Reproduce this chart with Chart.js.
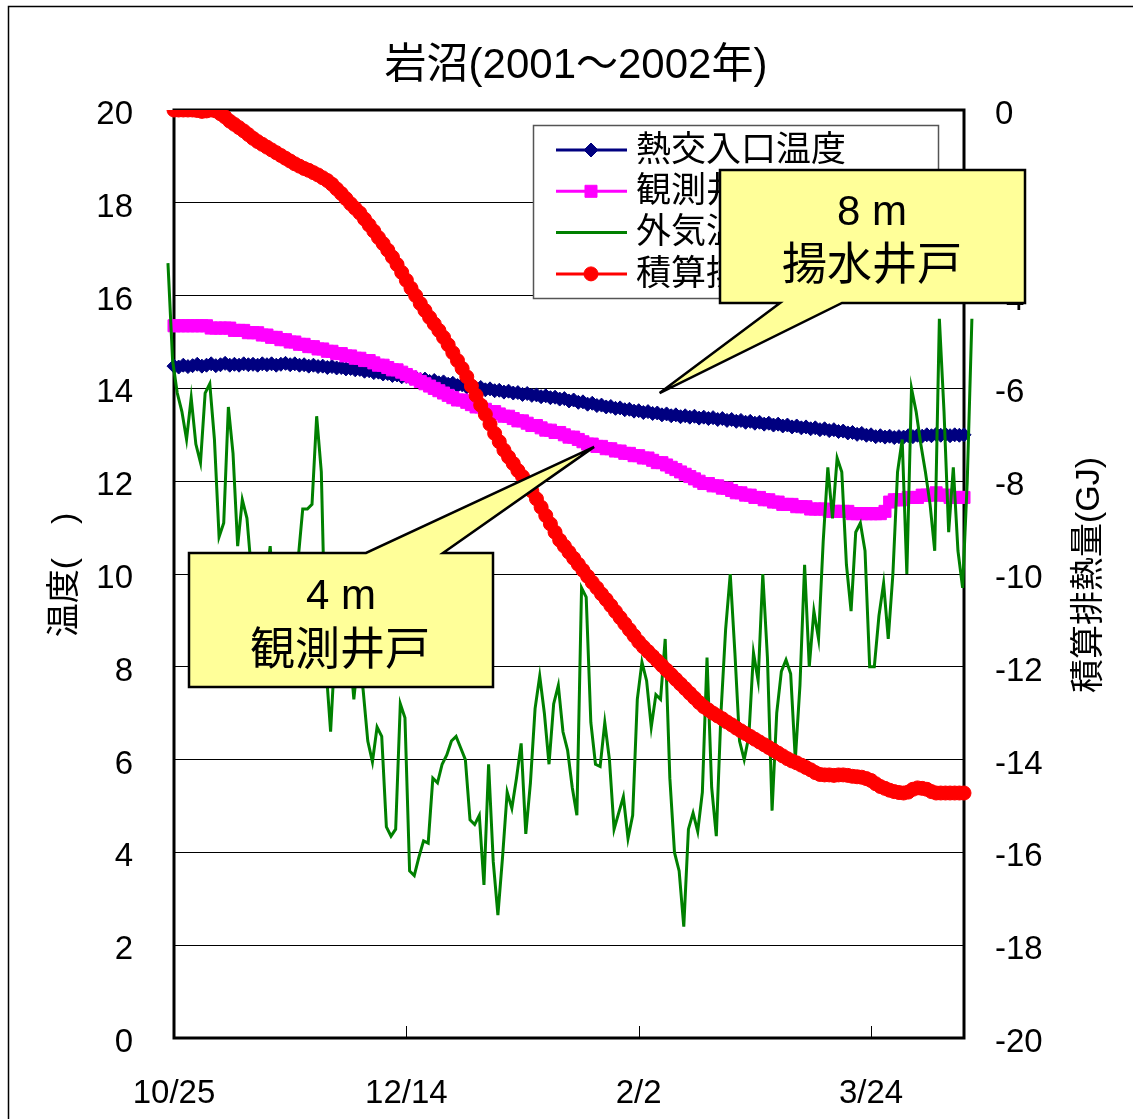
<!DOCTYPE html>
<html lang="ja">
<head>
<meta charset="utf-8">
<title>岩沼(2001～2002年)</title>
<script src="https://cdn.jsdelivr.net/npm/chart.js@4.4.1/dist/chart.umd.min.js"></script>
<style>
  html, body { margin: 0; padding: 0; background: #fff; }
  canvas { display: block; }
</style>
</head>
<body>
<canvas id="chart" width="1133" height="1119"></canvas>
<script>
// ---- chart data -------------------------------------------------------
const titleText = '岩沼(2001～2002年)';
const seriesNames = ['熱交入口温度', '観測井戸温度', '外気温度', '積算排熱量'];
const leftAxisTitle = '温度(\u3000)';
const rightAxisTitle = '積算排熱量(GJ)';

// x axis: days counted from 10/25
const dayRange = [0, 170];
const dayTicks = [0, 50, 100, 150];
const dayTickLabels = ['10/25', '12/14', '2/2', '3/24'];

// heat-exchanger inlet temperature (℃), one value per day
const inletTemp = [
  14.48, 14.46, 14.50, 14.47, 14.49, 14.52, 14.48, 14.50, 14.53, 14.49,
  14.51, 14.54, 14.50, 14.52, 14.50, 14.53, 14.51, 14.52, 14.50, 14.53,
  14.51, 14.53, 14.50, 14.52, 14.54, 14.51, 14.53, 14.50, 14.51, 14.48,
  14.50, 14.47, 14.48, 14.45, 14.47, 14.44, 14.45, 14.42, 14.43, 14.40,
  14.41, 14.37, 14.38, 14.34, 14.35, 14.31, 14.32, 14.28, 14.29, 14.25,
  14.26, 14.22, 14.23, 14.19, 14.20, 14.15, 14.17, 14.12, 14.14, 14.09,
  14.11, 14.06, 14.08, 14.03, 14.05, 14.00, 14.02, 13.97, 13.99, 13.95,
  13.96, 13.92, 13.94, 13.90, 13.91, 13.87, 13.89, 13.85, 13.86, 13.82,
  13.84, 13.80, 13.81, 13.77, 13.78, 13.73, 13.75, 13.70, 13.71, 13.66,
  13.68, 13.63, 13.64, 13.60, 13.61, 13.57, 13.58, 13.54, 13.55, 13.51,
  13.52, 13.48, 13.50, 13.46, 13.47, 13.43, 13.45, 13.41, 13.43, 13.39,
  13.41, 13.38, 13.40, 13.36, 13.38, 13.35, 13.37, 13.33, 13.35, 13.31,
  13.33, 13.29, 13.31, 13.27, 13.29, 13.25, 13.27, 13.23, 13.25, 13.21,
  13.23, 13.19, 13.21, 13.17, 13.19, 13.15, 13.17, 13.13, 13.15, 13.11,
  13.13, 13.09, 13.11, 13.07, 13.08, 13.04, 13.05, 13.01, 13.03, 12.99,
  13.00, 12.96, 12.98, 12.95, 12.97, 12.94, 12.96, 12.95, 12.98, 12.96,
  12.99, 12.97, 13.00, 12.98, 13.01, 12.99, 13.01, 12.98, 13.00, 12.99,
  13.00
];

// observation well (4 m) temperature (℃), one value per day
const wellTemp = [
  15.35, 15.35, 15.35, 15.35, 15.35, 15.35, 15.35, 15.35, 15.30, 15.30,
  15.30, 15.30, 15.30, 15.25, 15.25, 15.25, 15.20, 15.20, 15.20, 15.15,
  15.15, 15.10, 15.10, 15.05, 15.05, 15.00, 15.00, 14.95, 14.95, 14.90,
  14.90, 14.85, 14.85, 14.80, 14.80, 14.75, 14.75, 14.70, 14.70, 14.65,
  14.65, 14.60, 14.60, 14.55, 14.50, 14.50, 14.45, 14.40, 14.40, 14.35,
  14.30, 14.25, 14.20, 14.15, 14.10, 14.05, 14.00, 13.95, 13.90, 13.85,
  13.80, 13.75, 13.75, 13.70, 13.65, 13.60, 13.60, 13.55, 13.50, 13.50,
  13.45, 13.40, 13.40, 13.35, 13.30, 13.30, 13.25, 13.20, 13.20, 13.15,
  13.10, 13.10, 13.05, 13.05, 13.00, 12.95, 12.95, 12.90, 12.85, 12.80,
  12.80, 12.75, 12.75, 12.70, 12.70, 12.65, 12.65, 12.60, 12.60, 12.55,
  12.55, 12.50, 12.50, 12.45, 12.40, 12.40, 12.35, 12.30, 12.25, 12.20,
  12.15, 12.10, 12.05, 12.00, 11.95, 11.95, 11.90, 11.90, 11.85, 11.85,
  11.80, 11.75, 11.75, 11.70, 11.70, 11.65, 11.65, 11.60, 11.60, 11.55,
  11.55, 11.50, 11.50, 11.50, 11.45, 11.45, 11.45, 11.40, 11.40, 11.40,
  11.40, 11.35, 11.35, 11.35, 11.35, 11.35, 11.30, 11.30, 11.30, 11.30,
  11.30, 11.30, 11.30, 11.35, 11.55, 11.60, 11.60, 11.60, 11.65, 11.65,
  11.65, 11.70, 11.70, 11.70, 11.75, 11.70, 11.70, 11.65, 11.65, 11.65,
  11.65
];

// outdoor air temperature (℃), daily; its record starts a little before 10/25
const airTempStartDay = -1.3;
const airTemp = [
  16.7, 14.6, 13.9, 13.5, 12.9, 13.8, 12.8, 12.4, 13.9, 14.1,
  12.9, 10.8, 11.1, 13.6, 12.6, 10.6, 11.6, 11.2, 10.0, 9.0,
  8.5, 9.8, 10.6, 9.2, 8.4, 8.0, 9.0, 9.6, 10.3, 11.4,
  11.4, 11.5, 13.4, 12.2, 8.0, 6.6, 8.5, 9.0, 8.0, 8.5,
  7.3, 8.3, 7.5, 6.4, 5.95, 6.7, 6.5, 4.55, 4.35, 4.5,
  7.2, 6.9, 3.6, 3.5, 3.9, 4.25, 4.2, 5.6, 5.5, 5.9,
  6.1, 6.4, 6.5, 6.25, 6.0, 4.7, 4.6, 4.8, 3.3, 5.9,
  3.8, 2.65, 3.9, 5.3, 4.95, 5.6, 6.35, 4.4, 5.5, 7.1,
  7.8, 7.0, 5.9, 7.2, 7.6, 6.6, 6.2, 5.4, 4.8, 9.7,
  9.5, 6.8, 5.9, 5.85, 6.8, 6.0, 4.5, 4.85, 5.2, 4.3,
  4.8, 7.3, 8.1, 7.7, 6.7, 7.4, 7.3, 8.6, 5.6, 4.0,
  3.6, 2.4, 4.5, 4.85, 4.45, 5.3, 8.2, 5.4, 4.35, 7.0,
  8.8, 10.0, 8.3, 6.4, 6.0, 6.5, 8.3, 7.7, 10.0, 8.2,
  4.9, 7.0, 7.9, 8.15, 7.85, 6.0, 7.6, 10.2, 8.0, 9.2,
  8.6, 10.7, 12.3, 11.2, 12.5, 12.2, 10.2, 9.2, 10.9, 11.1,
  10.5, 8.0, 8.0, 9.1, 9.8, 8.6, 10.0, 12.2, 12.9, 10.0,
  14.0, 13.5, 12.8, 12.2, 11.5, 10.5, 15.5, 13.5, 10.9, 12.3,
  10.5, 9.7, 12.0, 15.5
];

// cumulative heat rejected (GJ), one value per day, on the right axis
const heatTotal = [
  0, 0, 0, 0, 0, -0.01, -0.03, -0.02, 0, -0.02,
  -0.08, -0.15, -0.24, -0.31, -0.38, -0.45, -0.53, -0.61, -0.68, -0.74,
  -0.80, -0.86, -0.92, -0.98, -1.04, -1.10, -1.16, -1.21, -1.26, -1.30,
  -1.35, -1.40, -1.46, -1.52, -1.60, -1.70, -1.80, -1.91, -2.02, -2.12,
  -2.22, -2.35, -2.48, -2.61, -2.75, -2.88, -3.02, -3.17, -3.33, -3.50,
  -3.67, -3.84, -4.00, -4.17, -4.32, -4.47, -4.61, -4.75, -4.90, -5.06,
  -5.23, -5.40, -5.57, -5.75, -5.95, -6.15, -6.36, -6.56, -6.77, -6.97,
  -7.15, -7.33, -7.48, -7.62, -7.77, -7.90, -8.04, -8.21, -8.38, -8.56,
  -8.74, -8.92, -9.10, -9.27, -9.40, -9.53, -9.66, -9.79, -9.92, -10.05,
  -10.18, -10.30, -10.43, -10.55, -10.68, -10.81, -10.94, -11.07, -11.20, -11.33,
  -11.46, -11.57, -11.67, -11.77, -11.87, -11.97, -12.07, -12.17, -12.27, -12.37,
  -12.47, -12.57, -12.67, -12.77, -12.86, -12.93, -13.00, -13.06, -13.12, -13.19,
  -13.25, -13.32, -13.38, -13.44, -13.50, -13.56, -13.62, -13.68, -13.74, -13.80,
  -13.86, -13.92, -13.98, -14.03, -14.07, -14.12, -14.17, -14.22, -14.28, -14.32,
  -14.33, -14.33, -14.34, -14.33, -14.33, -14.34, -14.36, -14.37, -14.38, -14.41,
  -14.45, -14.52, -14.58, -14.62, -14.66, -14.69, -14.71, -14.72, -14.70, -14.64,
  -14.61, -14.62, -14.64, -14.69, -14.72, -14.72, -14.72, -14.72, -14.72, -14.72,
  -14.72
];

// ---- styling ----------------------------------------------------------
const LATIN = "'Liberation Sans', Arial, 'Noto Sans CJK JP', sans-serif";
const NAVY = '#000080', MAGENTA = '#FF00FF', GREEN = '#008000', RED = '#FF0000';
const CALLOUT_FILL = '#FFFF99';

const daily = arr => arr.map((v, i) => ({ x: i, y: v }));

// markers used in the legend, same shapes as on the lines
function drawMarker(ctx, style, x, y, r, color) {
  ctx.save();
  ctx.fillStyle = color;
  ctx.strokeStyle = color;
  ctx.lineWidth = 1;
  ctx.beginPath();
  if (style === 'circle') {
    ctx.arc(x, y, r, 0, Math.PI * 2);
  } else if (style === 'rect') {
    const s = r * Math.SQRT1_2;
    ctx.rect(x - s, y - s, 2 * s, 2 * s);
  } else if (style === 'rectRot') {
    ctx.moveTo(x - r, y); ctx.lineTo(x, y - r);
    ctx.lineTo(x + r, y); ctx.lineTo(x, y + r);
    ctx.closePath();
  }
  ctx.fill();
  ctx.stroke();
  ctx.restore();
}

// speech-bubble label: rectangle with a wedge running out to a point
function drawCallout(ctx, box, wedge, tip, lines) {
  ctx.save();
  ctx.beginPath();
  const { x, y, w, h } = box;
  if (wedge.side === 'bottom') {
    ctx.moveTo(x, y);
    ctx.lineTo(x + w, y);
    ctx.lineTo(x + w, y + h);
    ctx.lineTo(wedge.b, y + h);
    ctx.lineTo(tip.x, tip.y);
    ctx.lineTo(wedge.a, y + h);
    ctx.lineTo(x, y + h);
  } else {
    ctx.moveTo(x, y);
    ctx.lineTo(wedge.a, y);
    ctx.lineTo(tip.x, tip.y);
    ctx.lineTo(wedge.b, y);
    ctx.lineTo(x + w, y);
    ctx.lineTo(x + w, y + h);
    ctx.lineTo(x, y + h);
  }
  ctx.closePath();
  ctx.fillStyle = CALLOUT_FILL;
  ctx.fill();
  ctx.lineWidth = 2.5;
  ctx.lineJoin = 'miter';
  ctx.strokeStyle = '#000';
  ctx.stroke();
  ctx.fillStyle = '#000';
  ctx.textAlign = 'center';
  ctx.textBaseline = 'middle';
  lines.forEach(l => {
    ctx.font = l.size + 'px ' + LATIN;
    ctx.fillText(l.text, l.x, l.y);
  });
  ctx.restore();
}

const decorations = {
  id: 'decorations',
  beforeDraw(chart) {
    const ctx = chart.ctx;
    ctx.save();
    ctx.fillStyle = '#fff';
    ctx.fillRect(0, 0, chart.width, chart.height);
    // outer frame of the figure
    ctx.strokeStyle = '#000';
    ctx.lineWidth = 1.5;
    ctx.strokeRect(8.5, 6.5, chart.width + 20, chart.height + 20);
    ctx.restore();
  },
  beforeDatasetsDraw(chart) {
    const { ctx, chartArea: a, scales } = chart;
    ctx.save();
    // inward tick marks on the date axis
    ctx.strokeStyle = '#000';
    ctx.lineWidth = 1;
    dayTicks.slice(1).forEach(d => {
      const px = Math.round(scales.x.getPixelForValue(d)) + 0.5;
      ctx.beginPath();
      ctx.moveTo(px, a.bottom);
      ctx.lineTo(px, a.bottom - 12);
      ctx.stroke();
    });
    // plot-area frame
    ctx.lineWidth = 3;
    ctx.strokeRect(a.left, a.top, a.right - a.left, a.bottom - a.top);
    ctx.restore();
  },
  afterDraw(chart) {
    const { ctx, scales } = chart;
    ctx.save();

    // title
    ctx.fillStyle = '#000';
    ctx.textAlign = 'center';
    ctx.textBaseline = 'middle';
    ctx.font = '42px ' + LATIN;
    ctx.fillText(titleText, 576, 66);

    // axis titles
    ctx.font = '34px ' + LATIN;
    ctx.save();
    ctx.translate(66, 575);
    ctx.rotate(-Math.PI / 2);
    ctx.fillText(leftAxisTitle, 0, 0);
    ctx.restore();
    ctx.save();
    ctx.translate(1090, 575);
    ctx.rotate(-Math.PI / 2);
    ctx.fillText(rightAxisTitle, 0, 0);
    ctx.restore();

    // legend
    const lg = { x: 533.5, y: 125.5, w: 405, h: 173 };
    ctx.fillStyle = '#fff';
    ctx.fillRect(lg.x, lg.y, lg.w, lg.h);
    ctx.strokeStyle = '#555';
    ctx.lineWidth = 1.5;
    ctx.strokeRect(lg.x, lg.y, lg.w, lg.h);
    ctx.font = '35px ' + LATIN;
    ctx.textAlign = 'left';
    chart.data.datasets.forEach((ds, i) => {
      const ry = 150 + i * 41.3;
      ctx.strokeStyle = ds.borderColor;
      ctx.lineWidth = 3;
      ctx.beginPath();
      ctx.moveTo(556, ry);
      ctx.lineTo(627, ry);
      ctx.stroke();
      if (ds.pointRadius > 0) {
        drawMarker(ctx, ds.pointStyle, 591, ry, ds.pointRadius, ds.pointBackgroundColor);
      }
      ctx.fillStyle = '#000';
      ctx.fillText(ds.label, 636, ry + 1);
    });

    // callouts pointing at the pumping-well and observation-well curves
    const tip1 = { x: scales.x.getPixelForValue(104.5), y: scales.y.getPixelForValue(13.9) };
    drawCallout(ctx, { x: 720, y: 170, w: 305, h: 133 },
      { side: 'bottom', a: 780, b: 842 }, tip1,
      [{ text: '8 m', x: 872, y: 213, size: 42 }, { text: '揚水井戸', x: 872, y: 268, size: 45 }]);

    const tip2 = { x: scales.x.getPixelForValue(90.4), y: scales.y.getPixelForValue(12.74) };
    drawCallout(ctx, { x: 189, y: 553, w: 304, h: 134 },
      { side: 'top', a: 366, b: 443 }, tip2,
      [{ text: '4 m', x: 341, y: 597, size: 42 }, { text: '観測井戸', x: 340, y: 653, size: 45 }]);

    ctx.restore();
  }
};

new Chart(document.getElementById('chart'), {
  type: 'line',
  data: {
    datasets: [
      {
        label: seriesNames[0], data: daily(inletTemp), yAxisID: 'y', order: 3,
        borderColor: NAVY, borderWidth: 3, pointStyle: 'rectRot', pointRadius: 7,
        pointBackgroundColor: NAVY, pointBorderColor: NAVY, pointBorderWidth: 1
      },
      {
        label: seriesNames[1], data: daily(wellTemp), yAxisID: 'y', order: 2,
        borderColor: MAGENTA, borderWidth: 3, pointStyle: 'rect', pointRadius: 8.5,
        pointBackgroundColor: MAGENTA, pointBorderColor: MAGENTA, pointBorderWidth: 1
      },
      {
        label: seriesNames[2], yAxisID: 'y', order: 1, clip: false,
        data: airTemp.map((v, i) => ({ x: airTempStartDay + i, y: v })),
        borderColor: GREEN, borderWidth: 3, pointRadius: 0
      },
      {
        label: seriesNames[3], data: daily(heatTotal), yAxisID: 'y2', order: 0,
        borderColor: RED, borderWidth: 3, pointStyle: 'circle', pointRadius: 7,
        pointBackgroundColor: RED, pointBorderColor: RED, pointBorderWidth: 1
      }
    ]
  },
  options: {
    responsive: false,
    animation: false,
    devicePixelRatio: 1,
    layout: { padding: { top: 110, left: 0, right: 0, bottom: 0 } },
    elements: { line: { tension: 0 } },
    plugins: { legend: { display: false }, title: { display: false }, tooltip: { enabled: false } },
    scales: {
      x: {
        type: 'linear', bounds: 'data',
        // range fixed after the data limits so every recorded day is still drawn
        afterDataLimits: s => { s.min = dayRange[0]; s.max = dayRange[1]; },
        afterBuildTicks: s => { s.ticks = dayTicks.map(v => ({ value: v })); },
        afterFit: s => { s.height = 81; },
        grid: { display: false, drawTicks: false },
        border: { display: false },
        ticks: {
          padding: 36, color: '#000', maxRotation: 0, autoSkip: false,
          font: { family: LATIN, size: 33 },
          callback: v => dayTickLabels[dayTicks.indexOf(v)]
        }
      },
      y: {
        position: 'left', min: 0, max: 20,
        afterFit: s => { s.width = 174; },
        grid: { color: '#000', lineWidth: 1, drawTicks: false },
        border: { display: false },
        ticks: { stepSize: 2, padding: 41, labelOffset: 5, color: '#000', font: { family: LATIN, size: 33 } }
      },
      y2: {
        position: 'right', min: -20, max: 0,
        afterFit: s => { s.width = 169; },
        grid: { drawOnChartArea: false, drawTicks: false },
        border: { display: false },
        ticks: { stepSize: 2, padding: 31, labelOffset: 5, color: '#000', font: { family: LATIN, size: 33 } }
      }
    }
  },
  plugins: [decorations]
});
</script>
</body>
</html>
